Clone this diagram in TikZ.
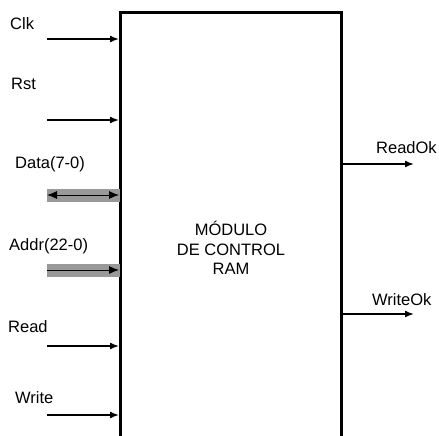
\documentclass[tikz,border=0pt]{standalone}
\usepackage{fontspec}
\setmainfont{Liberation Sans}
\usetikzlibrary{arrows.meta}
\tikzset{
  sig/.style={line width=1.6pt,-{Latex[length=9pt,width=7pt]}},
  bussig/.style={line width=0.9pt},
  band/.style={fill=black!40,draw=none},
  lbl/.style={anchor=base west,inner sep=0pt,font=\fontsize{16.5}{19}\selectfont},
  boxline/.style={line width=3pt,line join=miter},
}
\begin{document}
\begin{tikzpicture}[x=1pt,y=-1pt]
\useasboundingbox (0,0) rectangle (439,436);
% module box (open at bottom)
\coordinate (bl) at (120,440);
\coordinate (tl) at (120,13);
\coordinate (tr) at (341,13);
\coordinate (br) at (341,440);
\draw[boxline] (bl) -- (tl) -- (tr) -- (br);
\node[align=center,inner sep=0pt,font=\fontsize{16.5}{19.5}\selectfont] (title) at (231,248) {MÓDULO\\DE CONTROL\\RAM};
% inputs
\coordinate (clkS) at (47,39);   \coordinate (clkE) at (119,39);
\coordinate (rstS) at (47,120);  \coordinate (rstE) at (119,120);
\coordinate (readS) at (47,346); \coordinate (readE) at (119,346);
\coordinate (wrS) at (47,415);   \coordinate (wrE) at (119,415);
\draw[sig] (clkS) -- (clkE);
\draw[sig] (rstS) -- (rstE);
\draw[sig] (readS) -- (readE);
\draw[sig] (wrS) -- (wrE);
% buses
\coordinate (dataS) at (47,195); \coordinate (dataE) at (119,195);
\coordinate (addrS) at (47,270); \coordinate (addrE) at (119,270);
\fill[band] (47,188.5) rectangle (120,202);
\fill[band] (47,263.5) rectangle (120,277);
\draw[bussig,{Latex[length=10pt,width=8pt]}-{Latex[length=10pt,width=8pt]}] (dataS) -- (dataE);
\draw[bussig,-{Latex[length=10pt,width=8pt]}] (addrS) -- (addrE);
% outputs
\coordinate (rokS) at (341,164); \coordinate (rokE) at (414,164);
\coordinate (wokS) at (341,314); \coordinate (wokE) at (414,314);
\draw[sig] (rokS) -- (rokE);
\draw[sig] (wokS) -- (wokE);
% labels
\node[lbl] (lclk) at (10,30) {Clk};
\node[lbl] (lrst) at (11,89) {Rst};
\node[lbl] (ldata) at (15,168) {Data(7-0)};
\node[lbl] (laddr) at (9,250) {Addr(22-0)};
\node[lbl] (lread) at (8,332) {Read};
\node[lbl] (lwrite) at (15,403) {Write};
\node[lbl] (lrok) at (376,153) {ReadOk};
\node[lbl] (lwok) at (372,305) {WriteOk};
\end{tikzpicture}
\end{document}
